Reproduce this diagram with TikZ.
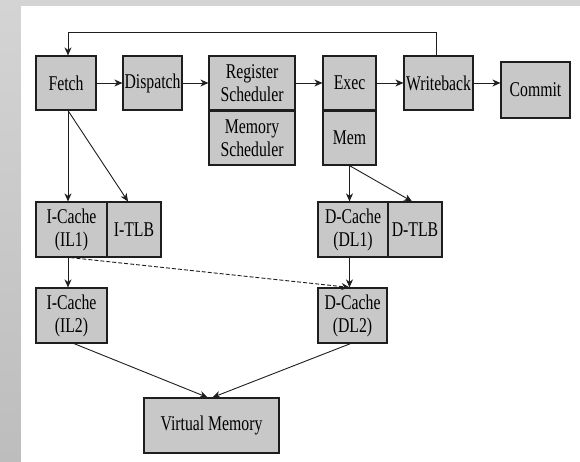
\documentclass[tikz,border=0pt]{standalone}
\usepackage{fontspec}
\setmainfont{Liberation Serif}[FakeStretch=0.75]
\usetikzlibrary{arrows.meta,calc}
\definecolor{boxfill}{HTML}{C8C8C8}
\definecolor{backtop}{HTML}{D4D4D4}
\definecolor{backlow}{HTML}{BDBDBD}
\definecolor{linecol}{HTML}{1E1E1E}
\tikzset{
  unit/.style={draw=linecol, line width=1.2pt, fill=boxfill, inner sep=0pt,
    align=center, font=\fontsize{21}{23}\selectfont},
  conn/.style={draw=linecol, line width=0.9pt, -{Stealth[length=8pt,width=7pt,inset=2.5pt]}},
  plain/.style={draw=linecol, line width=0.9pt}
}
\begin{document}
\begin{tikzpicture}[x=1pt,y=-1pt]
  % backdrop and white sheet
  \shade[top color=backtop, bottom color=backlow] (0,0) rectangle (580,462);
  \fill[white] (21,6) rectangle (580,462);
  \useasboundingbox (0,0) rectangle (580,462);

  % pipeline stages
  \node[unit, minimum width=60, minimum height=54] (fetch) at (66,83) {Fetch};
  \node[unit, minimum width=59, minimum height=54] (disp) at (152.5,83) {Dispatch};
  \node[unit, minimum width=86, minimum height=54] (rsch) at (252,83) {Register\\Scheduler};
  \node[unit, minimum width=86, minimum height=54] (msch) at (252,138) {Memory\\Scheduler};
  \node[unit, minimum width=53, minimum height=54] (exec) at (349.5,83) {Exec};
  \node[unit, minimum width=53, minimum height=54] (mem) at (349.5,138) {Mem};
  \node[unit, minimum width=69, minimum height=54] (wb) at (438.5,83) {Writeback};
  \node[unit, minimum width=69, minimum height=56] (commit) at (535.5,90) {Commit};

  % memory hierarchy
  \node[unit, minimum width=71, minimum height=55] (il1) at (71.5,229.5) {I-Cache\\(IL1)};
  \node[unit, minimum width=54, minimum height=55] (itlb) at (134,229.5) {I-TLB};
  \node[unit, minimum width=71, minimum height=55] (il2) at (71.5,315.5) {I-Cache\\(IL2)};
  \node[unit, minimum width=70, minimum height=55] (dl1) at (353,229.5) {D-Cache\\(DL1)};
  \node[unit, minimum width=54, minimum height=55] (dtlb) at (415,229.5) {D-TLB};
  \node[unit, minimum width=69, minimum height=55] (dl2) at (352.5,315.5) {D-Cache\\(DL2)};
  \node[unit, minimum width=135, minimum height=55] (vm) at (211.5,425.5) {Virtual Memory};

  % pipeline flow
  \draw[conn] (fetch) -- (disp);
  \draw[conn] (disp) -- (rsch);
  \draw[conn] (rsch.east |- exec) -- (exec);
  \draw[conn] (exec) -- (wb);
  \draw[conn] (wb.east) -- (wb.east -| commit.west);

  % writeback feeds back to fetch
  \coordinate (fbr) at ($(wb.north)+(-2,-23)$);
  \coordinate (fbl) at ($(fetch.north)+(2,-23)$);
  \draw[plain] ($(wb.north)+(-2,0)$) -- (fbr) -- (fbl);
  \draw[conn] (fbl) -- ($(fetch.north)+(2,0)$);

  % instruction side
  \coordinate (fs) at ($(fetch.south)+(2,0)$);
  \draw[conn] (fs) -- (fs |- il1.north);
  \draw[conn] (fs) -- ($(itlb.north)+(-6,0)$);
  \coordinate (il1s) at ($(il1.south)+(-3.5,0)$);
  \draw[conn] (il1s) -- (il1s |- il2.north);
  \draw[conn, dashed, dash pattern=on 4pt off 2pt] ($(il1.south)+(-1,0)$) -- ($(dl2.north)+(-3,0)$);

  % data side
  \coordinate (ms) at (mem.south);
  \draw[conn] (ms) -- (ms |- dl1.north);
  \draw[conn] (ms) -- ($(dtlb.north)+(-3,0)$);
  \draw[conn] (ms |- dl1.south) -- (ms |- dl2.north);

  % to virtual memory
  \draw[conn] ($(il2.south)+(2.5,0)$) -- ($(vm.north)+(-4,0)$);
  \draw[conn] ($(dl2.south)+(-2,0)$) -- ($(vm.north)+(1,0)$);
\end{tikzpicture}
\end{document}
